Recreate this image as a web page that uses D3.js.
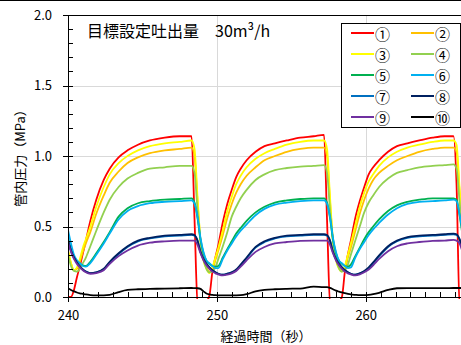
<!DOCTYPE html>
<meta charset="utf-8">
<style>
body { margin: 0; background: #fff; }
text { font-family: "Noto Sans CJK JP", "Noto Sans", sans-serif; fill: #000; }
.grid line { stroke: #d9d9d9; stroke-width: 1; shape-rendering: crispEdges; }
.axis path, .axis line { stroke: #000; stroke-width: 1; shape-rendering: crispEdges; fill: none; }
.axis text { font-size: 13px; }
.series { fill: none; stroke-width: 1.8; stroke-linejoin: round; }
</style>
<body>
<script src="https://cdn.jsdelivr.net/npm/d3@7"></script>
<script>

// elapsed time (s)
var times = [
  240.0, 240.2, 240.4, 240.6, 240.8, 241.0, 241.2, 241.5, 241.9, 242.4, 242.8, 243.4, 244.0, 244.7, 245.5, 246.5, 247.5, 248.3,
  248.5, 248.7, 248.9, 249.1, 249.3, 249.5, 249.7, 249.9, 250.1, 250.4, 250.7, 251.0, 251.3, 251.6, 252.0, 252.6, 253.2, 253.9, 254.7, 255.6, 256.5, 257.2,
  257.4, 257.6, 257.8, 258.0, 258.2, 258.4, 258.6, 258.8, 259.0, 259.3, 259.6, 259.9, 260.2, 260.5, 260.9, 261.5, 262.1, 262.8, 263.6, 264.5, 265.3, 265.9,
  266.1, 266.3, 266.5
];

// pressure in pipe (MPa), one list per gauge
var p1 = [
  0.0, 0.0, 0.05, 0.14, 0.22, 0.31, 0.40, 0.54, 0.69, 0.83, 0.91, 0.99, 1.04, 1.08, 1.11, 1.13, 1.14, 1.14,
  0.55, -0.03, -0.04, -0.04, -0.03, 0.01, 0.18, 0.28, 0.37, 0.53, 0.66, 0.76, 0.85, 0.91, 0.97, 1.03, 1.07, 1.09, 1.11, 1.13, 1.14, 1.15,
  0.55, -0.03, -0.04, -0.04, -0.03, 0.0, 0.18, 0.30, 0.40, 0.56, 0.68, 0.78, 0.87, 0.92, 0.97, 1.03, 1.07, 1.09, 1.11, 1.13, 1.14, 1.14,
  0.8, -0.03, -0.04
];
var p2 = [
  0.33, 0.24, 0.19, 0.20, 0.25, 0.32, 0.38, 0.46, 0.59, 0.72, 0.81, 0.89, 0.95, 0.99, 1.02, 1.04, 1.05, 1.06,
  1.0, 0.68, 0.40, 0.27, 0.21, 0.18, 0.20, 0.26, 0.33, 0.44, 0.56, 0.66, 0.74, 0.80, 0.86, 0.92, 0.97, 1.00, 1.03, 1.05, 1.06, 1.06,
  1.0, 0.68, 0.40, 0.27, 0.21, 0.19, 0.21, 0.28, 0.35, 0.47, 0.59, 0.69, 0.77, 0.83, 0.88, 0.93, 0.97, 1.00, 1.03, 1.05, 1.06, 1.06,
  1.03, 0.75, 0.45
];
var p3 = [
  0.33, 0.24, 0.19, 0.21, 0.27, 0.35, 0.41, 0.50, 0.64, 0.78, 0.87, 0.95, 1.00, 1.04, 1.07, 1.09, 1.10, 1.11,
  1.05, 0.71, 0.40, 0.26, 0.20, 0.17, 0.21, 0.28, 0.35, 0.475, 0.61, 0.71, 0.80, 0.86, 0.92, 0.98, 1.02, 1.05, 1.08, 1.10, 1.11, 1.11,
  1.05, 0.71, 0.40, 0.26, 0.20, 0.18, 0.22, 0.30, 0.38, 0.51, 0.64, 0.74, 0.82, 0.87, 0.93, 0.99, 1.03, 1.06, 1.08, 1.10, 1.11, 1.11,
  1.08, 0.78, 0.45
];
var p4 = [
  0.30, 0.22, 0.185, 0.18, 0.20, 0.24, 0.28, 0.36, 0.47, 0.60, 0.69, 0.78, 0.84, 0.88, 0.91, 0.92, 0.93, 0.93,
  0.88, 0.62, 0.39, 0.27, 0.20, 0.175, 0.18, 0.21, 0.27, 0.36, 0.46, 0.57, 0.64, 0.70, 0.76, 0.83, 0.87, 0.90, 0.915, 0.925, 0.93, 0.935,
  0.88, 0.62, 0.39, 0.27, 0.205, 0.18, 0.19, 0.23, 0.30, 0.40, 0.50, 0.60, 0.67, 0.72, 0.78, 0.84, 0.88, 0.90, 0.92, 0.93, 0.935, 0.94,
  0.91, 0.68, 0.45
];
var p5 = [
  0.42, 0.34, 0.28, 0.25, 0.235, 0.225, 0.22, 0.25, 0.31, 0.39, 0.46, 0.57, 0.63, 0.665, 0.68, 0.69, 0.695, 0.70,
  0.67, 0.56, 0.41, 0.31, 0.255, 0.235, 0.22, 0.215, 0.22, 0.28, 0.34, 0.395, 0.45, 0.49, 0.54, 0.60, 0.64, 0.67, 0.685, 0.695, 0.70, 0.70,
  0.67, 0.56, 0.41, 0.31, 0.255, 0.235, 0.22, 0.215, 0.23, 0.29, 0.35, 0.41, 0.46, 0.50, 0.55, 0.61, 0.65, 0.675, 0.69, 0.70, 0.70, 0.70,
  0.69, 0.58, 0.44
];
var p6 = [
  0.475, 0.38, 0.30, 0.26, 0.24, 0.22, 0.215, 0.24, 0.30, 0.38, 0.45, 0.55, 0.61, 0.645, 0.665, 0.675, 0.68, 0.685,
  0.66, 0.57, 0.42, 0.32, 0.26, 0.24, 0.22, 0.205, 0.205, 0.27, 0.33, 0.38, 0.43, 0.47, 0.515, 0.58, 0.625, 0.655, 0.67, 0.68, 0.685, 0.685,
  0.66, 0.57, 0.42, 0.32, 0.26, 0.24, 0.22, 0.205, 0.21, 0.28, 0.34, 0.39, 0.44, 0.48, 0.525, 0.585, 0.63, 0.66, 0.675, 0.68, 0.685, 0.69,
  0.68, 0.59, 0.46
];
var p7 = [
  0.40, 0.33, 0.28, 0.245, 0.215, 0.195, 0.18, 0.17, 0.175, 0.195, 0.245, 0.305, 0.355, 0.395, 0.415, 0.43, 0.435, 0.44,
  0.435, 0.40, 0.32, 0.27, 0.235, 0.21, 0.19, 0.175, 0.165, 0.158, 0.165, 0.175, 0.19, 0.225, 0.275, 0.35, 0.39, 0.415, 0.43, 0.435, 0.44, 0.44,
  0.435, 0.40, 0.32, 0.27, 0.235, 0.21, 0.19, 0.175, 0.165, 0.158, 0.168, 0.18, 0.205, 0.24, 0.29, 0.355, 0.395, 0.42, 0.43, 0.435, 0.44, 0.445,
  0.44, 0.41, 0.34
];
var p8 = [
  0.40, 0.33, 0.28, 0.245, 0.215, 0.195, 0.18, 0.17, 0.175, 0.20, 0.25, 0.31, 0.36, 0.40, 0.42, 0.435, 0.44, 0.445,
  0.44, 0.40, 0.32, 0.27, 0.235, 0.21, 0.19, 0.175, 0.165, 0.158, 0.165, 0.175, 0.195, 0.23, 0.28, 0.355, 0.395, 0.42, 0.435, 0.44, 0.445, 0.445,
  0.44, 0.40, 0.32, 0.27, 0.235, 0.21, 0.19, 0.175, 0.165, 0.158, 0.168, 0.185, 0.21, 0.245, 0.295, 0.36, 0.40, 0.425, 0.435, 0.44, 0.445, 0.45,
  0.445, 0.41, 0.34
];
var p9 = [
  0.39, 0.32, 0.27, 0.235, 0.21, 0.19, 0.175, 0.165, 0.17, 0.19, 0.235, 0.29, 0.33, 0.365, 0.385, 0.395, 0.40, 0.40,
  0.40, 0.37, 0.31, 0.26, 0.225, 0.20, 0.18, 0.168, 0.16, 0.153, 0.158, 0.168, 0.185, 0.215, 0.26, 0.32, 0.355, 0.38, 0.39, 0.398, 0.40, 0.40,
  0.40, 0.37, 0.31, 0.26, 0.225, 0.20, 0.18, 0.168, 0.16, 0.153, 0.16, 0.175, 0.195, 0.225, 0.27, 0.325, 0.36, 0.38, 0.39, 0.398, 0.40, 0.405,
  0.40, 0.38, 0.32
];
var p10 = [
  0.062, 0.05, 0.04, 0.032, 0.026, 0.022, 0.018, 0.014, 0.012, 0.012, 0.015, 0.035, 0.05, 0.055, 0.057, 0.06, 0.062, 0.064,
  0.063, 0.062, 0.058, 0.04, 0.025, 0.018, 0.015, 0.013, 0.012, 0.011, 0.011, 0.012, 0.012, 0.013, 0.02, 0.04, 0.05, 0.055, 0.058, 0.06, 0.073, 0.07,
  0.07, 0.065, 0.055, 0.045, 0.038, 0.032, 0.027, 0.022, 0.018, 0.015, 0.013, 0.013, 0.015, 0.02, 0.03, 0.05, 0.062, 0.063, 0.063, 0.063, 0.063, 0.064,
  0.064, 0.064, 0.064
];

var labels = ["①", "②", "③", "④", "⑤", "⑥", "⑦", "⑧", "⑨", "⑩"];
var colors = ["#ff0000", "#ffc000", "#ffff00", "#92d050", "#00b050",
              "#00b0f0", "#0070c0", "#002060", "#7030a0", "#000000"];
var yTicks = [0, 0.5, 1.0, 1.5, 2.0];
var xTicks = [240, 250, 260];

var seriesList = [p1, p2, p3, p4, p5, p6, p7, p8, p9, p10];

var W = 461, H = 345;
var margin = {top: 15, left: 68};
var plotW = 393, plotH = 282;

var x = d3.scaleLinear().domain([240, 266.4]).range([0, plotW]);
var y = d3.scaleLinear().domain([0, 2]).range([plotH, 0]);

var svg = d3.select("body").append("svg")
    .attr("width", W)
    .attr("height", H);

svg.append("rect").attr("width", W).attr("height", H).attr("fill", "#fff");
svg.append("line")
    .attr("x1", 0).attr("x2", W).attr("y1", 0.5).attr("y2", 0.5)
    .attr("stroke", "#000");

var g = svg.append("g")
    .attr("transform", "translate(" + margin.left + "," + margin.top + ")");

// grid
g.append("g").attr("class", "grid")
  .selectAll("line").data([0.5, 1.0, 1.5]).enter().append("line")
    .attr("x1", 0).attr("x2", plotW)
    .attr("y1", function(d) { return Math.round(y(d)) + 0.5; })
    .attr("y2", function(d) { return Math.round(y(d)) + 0.5; });
g.append("g").attr("class", "grid")
  .selectAll("line").data([250, 260]).enter().append("line")
    .attr("y1", 0).attr("y2", plotH)
    .attr("x1", function(d) { return Math.round(x(d)) + 0.5; })
    .attr("x2", function(d) { return Math.round(x(d)) + 0.5; });

// top border
g.append("line")
    .attr("x1", 0).attr("x2", plotW).attr("y1", 0.5).attr("y2", 0.5)
    .attr("stroke", "#000").attr("shape-rendering", "crispEdges");

// data
g.append("clipPath").attr("id", "clip")
  .append("rect").attr("x", 0).attr("y", 0).attr("width", plotW).attr("height", plotH + 2);

var line = d3.line()
    .curve(d3.curveMonotoneX)
    .x(function(d) { return x(d[0]); })
    .y(function(d) { return y(d[1]); });

var lines = g.append("g").attr("clip-path", "url(#clip)");
seriesList.forEach(function(s, i) {
  var pts = times.map(function(t, j) { return [t, s[j]]; });
  lines.append("path")
      .attr("class", "series")
      .attr("stroke", colors[i])
      .attr("d", line(pts));
});

// axes
var yAxis = d3.axisLeft(y).tickValues(yTicks).tickSize(5).tickSizeOuter(0)
    .tickFormat(d3.format(".1f"));
var yMinor = d3.axisRight(y).tickValues(d3.range(0, 2.001, 0.1)).tickSize(5)
    .tickSizeOuter(0).tickFormat("");
var xAxis = d3.axisBottom(x).tickValues(xTicks).tickSize(5).tickSizeOuter(0)
    .tickFormat(d3.format("d"));
var xMinor = d3.axisTop(x).tickValues(d3.range(241, 267, 1)).tickSize(5)
    .tickSizeOuter(0).tickFormat("");

g.append("g").attr("class", "axis").call(yMinor);
g.append("g").attr("class", "axis").call(yAxis)
  .selectAll("text").attr("x", -16);
g.append("g").attr("class", "axis")
    .attr("transform", "translate(0," + plotH + ")").call(xMinor);
g.append("g").attr("class", "axis")
    .attr("transform", "translate(0," + plotH + ")").call(xAxis)
  .selectAll("text").attr("y", 14);

// titles
svg.append("text")
    .attr("transform", "translate(19,155) rotate(-90)")
    .attr("text-anchor", "middle")
    .attr("dominant-baseline", "central")
    .style("font-size", "13px")
    .text("管内圧力（MPa）");

svg.append("text")
    .attr("x", 266).attr("y", 341)
    .attr("text-anchor", "middle")
    .style("font-size", "13px")
    .text("経過時間（秒）");

svg.append("text")
    .attr("x", 87).attr("y", 37)
    .style("font-size", "16px")
    .text("目標設定吐出量　30m³/h");

// legend
var legend = svg.append("g").attr("transform", "translate(341,23)");
legend.append("rect")
    .attr("x", 0.5).attr("y", 0.5).attr("width", 119).attr("height", 104)
    .attr("fill", "#fff").attr("stroke", "#000");

var item = legend.selectAll(".item").data(labels).enter().append("g")
    .attr("class", "item")
    .attr("transform", function(d, i) {
      return "translate(" + (i % 2 ? 70 : 10) + "," + (10 + Math.floor(i / 2) * 21) + ")";
    });
item.append("line")
    .attr("x1", 0).attr("x2", 23).attr("y1", 0).attr("y2", 0)
    .attr("stroke-width", 2)
    .attr("stroke", function(d, i) { return colors[i]; });
item.append("text")
    .attr("x", 24).attr("y", 0)
    .attr("dominant-baseline", "central")
    .style("font-size", "15px")
    .text(function(d) { return d; });

</script>
</body>
